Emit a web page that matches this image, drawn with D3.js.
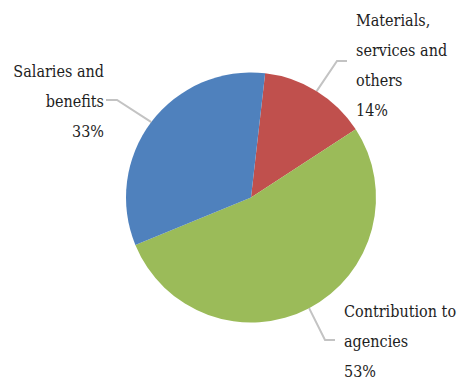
<!DOCTYPE html>
<style>
body { margin: 0; background: #fff; }
</style>
<svg width="461" height="381"></svg>
<script src="https://d3js.org/d3.v7.min.js"></script>
<script>

// slice order, clockwise from the top
var categories = ["Materials, services and others", "Contribution to agencies", "Salaries and benefits"];
var values = [14, 53, 33];
var colors = ["#C0504D", "#9BBB59", "#4F81BD"];
// label text lines, the percentage is added as last line
var labelLines = [
  ["Materials,", "services and", "others"],
  ["Contribution to", "agencies"],
  ["Salaries and", "benefits"]
];

var svg = d3.select("svg"),
    cx = 251, cy = 197.5, radius = 125;

var pie = d3.pie().sort(null).value(function(d) { return d; })
    .startAngle(6.5 * Math.PI / 180)
    .endAngle(6.5 * Math.PI / 180 + 2 * Math.PI);

var arc = d3.arc().innerRadius(0).outerRadius(radius);

var arcs = pie(values);

var g = svg.append("g").attr("transform", "translate(" + cx + "," + cy + ")");

g.selectAll("path")
  .data(arcs)
  .enter().append("path")
    .attr("d", arc)
    .attr("fill", function(d, i) { return colors[i]; });

// label layout: text anchor point, alignment, elbow + line end
var layout = [
  {x: 356, y: 26, anchor: "start", elbow: [337, 61], end: [347, 61]},
  {x: 344, y: 317, anchor: "start", elbow: [325, 340], end: [335, 340]},
  {x: 104, y: 77, anchor: "end", elbow: [117, 100], end: [106, 100]}
];
var lineH = 30;

arcs.forEach(function(a, i) {
  var L = layout[i];
  var mid = (a.startAngle + a.endAngle) / 2;
  var px = cx + radius * Math.sin(mid),
      py = cy - radius * Math.cos(mid);

  svg.append("polyline")
      .attr("points", [[px, py], L.elbow, L.end].map(function(p) { return p.join(","); }).join(" "))
      .attr("fill", "none")
      .attr("stroke", "#c3c3c3")
      .attr("stroke-width", 2);

  var lines = labelLines[i].concat([Math.round(a.data / d3.sum(values) * 100) + "%"]);
  var t = svg.append("text")
      .attr("font-family", "'DejaVu Serif Condensed', 'DejaVu Serif', serif")
      .attr("font-stretch", "condensed")
      .attr("font-size", 16)
      .attr("fill", "#1e1e1e")
      .attr("text-anchor", L.anchor);
  lines.forEach(function(s, j) {
    t.append("tspan")
        .attr("x", L.x)
        .attr("y", L.y + j * lineH)
        .text(s);
  });
});

</script>
